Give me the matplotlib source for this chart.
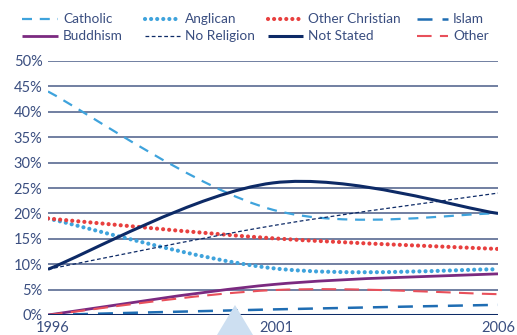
import matplotlib
matplotlib.use('Agg')
import matplotlib.pyplot as plt
import matplotlib.transforms as mtransforms
from matplotlib.path import Path
from matplotlib.patches import PathPatch, Polygon
from matplotlib.lines import Line2D

plt.rcParams['font.family'] = ['Lato', 'DejaVu Sans']

# census years and share of population (%)
years = [1996, 2001, 2006]
catholic = [44.0, 20.7, 20.0]
anglican = [19.0, 9.2, 9.0]
other_christian = [19.0, 15.1, 13.0]
islam = [0.0, 1.1, 2.0]
buddhism = [0.0, 6.0, 8.1]
no_religion = [9.0, 17.6, 24.0]
not_stated = [9.0, 26.0, 20.0]
other = [0.0, 4.9, 4.1]

y_ticks = [0, 5, 10, 15, 20, 25, 30, 35, 40, 45, 50]

NAVY = '#0d2a66'
LBLUE = '#3fa3dc'
RED = '#e8403f'
TXT = '#3a4e80'

series = [
    ('Catholic', catholic, dict(color=LBLUE, lw=1.6, ls=(0, (4.5, 3.5)))),
    ('Anglican', anglican, dict(color=LBLUE, lw=3.0, ls=(0, (0.01, 1.45)), cap='round')),
    ('Other Christian', other_christian, dict(color=RED, lw=3.0, ls=(0, (0.01, 1.45)), cap='round')),
    ('Islam', islam, dict(color='#1f6db3', lw=1.8, ls=(0, (6, 4)))),
    ('Buddhism', buddhism, dict(color='#7b2a80', lw=2.0, ls='-')),
    ('No Religion', no_religion, dict(color=NAVY, lw=0.9, ls=(0, (3, 2)))),
    ('Not Stated', not_stated, dict(color=NAVY, lw=2.2, ls='-')),
    ('Other', other, dict(color='#e8505b', lw=1.5, ls=(0, (7, 4)))),
]

# legend layout in pixels (handle start, handle end) per column, row centres
leg_cols = [(22, 58), (145, 180), (268, 303), (417, 448)]
leg_rows = [19, 36]


def smooth_path(xs, ys):
    # Excel-like smoothed line: cubic bezier with catmull-rom tangents
    pts = list(zip(xs, ys))
    verts = [pts[0]]
    codes = [Path.MOVETO]
    n = len(pts)
    for i in range(n - 1):
        p0 = pts[max(i - 1, 0)]
        p1 = pts[i]
        p2 = pts[i + 1]
        p3 = pts[min(i + 2, n - 1)]
        c1 = (p1[0] + (p2[0] - p0[0]) / 6, p1[1] + (p2[1] - p0[1]) / 6)
        c2 = (p2[0] - (p3[0] - p1[0]) / 6, p2[1] - (p3[1] - p1[1]) / 6)
        verts += [c1, c2, p2]
        codes += [Path.CURVE4] * 3
    return Path(verts, codes)


W, H = 517, 335
fig = plt.figure(figsize=(W / 100, H / 100), dpi=100)
fig.patch.set_facecolor('white')

# faint watermark triangle behind the plot
fig.patches.append(Polygon([(217 / W, 0), (235 / W, 30 / H), (253 / W, 0)],
                           closed=True, transform=fig.transFigure,
                           facecolor='#cddff1', edgecolor='none', zorder=0))

ax = fig.add_axes([48 / W, 20 / H, 450 / W, 254 / H])
ax.patch.set_alpha(0)
ax.set_xlim(1996, 2006)
ax.set_ylim(0, 50)

for v in y_ticks[1:]:
    ax.axhline(v, color='#4a5c88', lw=1.1, zorder=1)
ax.axhline(0, color=NAVY, lw=2.2, zorder=5)

for i, (name, vals, st) in enumerate(series):
    patch = PathPatch(smooth_path(years, vals), fill=False, edgecolor=st['color'],
                      lw=st['lw'], linestyle=st['ls'], capstyle=st.get('cap', 'butt'),
                      zorder=3)
    ax.add_patch(patch)

    # hand-placed legend entry
    x0, x1 = leg_cols[i % 4]
    yy = 1 - leg_rows[i // 4] / H
    fig.add_artist(Line2D([x0 / W, x1 / W], [yy, yy], transform=fig.transFigure,
                          color=st['color'], lw=st['lw'], linestyle=st['ls'],
                          solid_capstyle='butt', dash_capstyle=st.get('cap', 'butt')))
    fig.text((x1 + 5) / W, yy, name, fontsize=9.8, color=TXT, va='center', ha='left')

for s in ax.spines.values():
    s.set_visible(False)

ax.set_yticks(y_ticks)
ax.set_yticklabels([f'{v}%' for v in y_ticks])
ax.set_xticks(years)
ax.set_xticklabels([str(y) for y in years])
ax.tick_params(length=0, labelsize=10.5, colors=TXT, pad=4)
ax.tick_params(axis='x', pad=4)
# nudge year labels a little to the right, keeping 2006 inside the figure
for lbl, dx in zip(ax.get_xticklabels(), [5, 3, 0]):
    shift = mtransforms.ScaledTranslation(dx / 100, 0, fig.dpi_scale_trans)
    lbl.set_transform(lbl.get_transform() + shift)

fig.savefig('out.png', dpi=100, facecolor='white')
